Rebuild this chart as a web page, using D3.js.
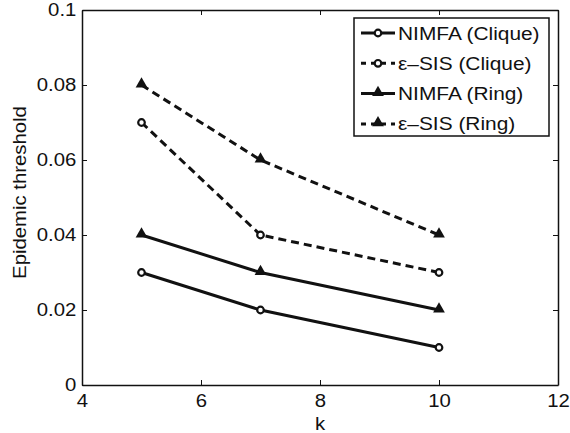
<!DOCTYPE html>
<html>
<head>
<meta charset="utf-8">
<script src="https://cdn.jsdelivr.net/npm/d3@7"></script>
<style>
  body { margin: 0; background: #fff; }
  text { font-family: "Liberation Sans", Arial, sans-serif; fill: #111; }
</style>
</head>
<body>
<svg id="chart" width="570" height="433"></svg>
<script>
var kValues = [5, 7, 10];
var nimfaClique = [0.03, 0.02, 0.01];
var sisClique = [0.07, 0.04, 0.03];
var nimfaRing = [0.04, 0.03, 0.02];
var sisRing = [0.08, 0.06, 0.04];
var xTicks = [4, 6, 8, 10, 12];
var yTicks = [0, 0.02, 0.04, 0.06, 0.08, 0.1];

var series = [
  { name: "NIMFA (Clique)", values: nimfaClique, dashed: false, marker: "circle" },
  { name: "\u03b5\u2013SIS (Clique)", values: sisClique, dashed: true, marker: "circle" },
  { name: "NIMFA (Ring)", values: nimfaRing, dashed: false, marker: "triangle" },
  { name: "\u03b5\u2013SIS (Ring)", values: sisRing, dashed: true, marker: "triangle" }
];

var svg = d3.select("#chart");
var L = 82, R = 558, T = 10, B = 385;
var SX = 1.13; // the original text is a bit wider than Liberation Sans

var x = d3.scaleLinear().domain([4, 12]).range([L, R]);
var y = d3.scaleLinear().domain([0, 0.1]).range([B, T]);

var fmt = function (d) { return d === 0 ? "0" : d3.format("~g")(d); };

// axes, ticks inward on all sides
svg.append("g").attr("transform", "translate(0," + B + ")")
  .call(d3.axisBottom(x).tickValues(xTicks).tickSizeInner(-5).tickSizeOuter(0).tickPadding(9).tickFormat(fmt));
svg.append("g").attr("transform", "translate(0," + T + ")")
  .call(d3.axisTop(x).tickValues(xTicks).tickSizeInner(-5).tickSizeOuter(0).tickFormat(""));
svg.append("g").attr("transform", "translate(" + L + ",0)")
  .call(d3.axisLeft(y).tickValues(yTicks).tickSizeInner(-5).tickSizeOuter(0).tickPadding(5).tickFormat(fmt));
svg.append("g").attr("transform", "translate(" + R + ",0)")
  .call(d3.axisRight(y).tickValues(yTicks).tickSizeInner(-5).tickSizeOuter(0).tickFormat(""));

svg.selectAll(".domain").attr("stroke", "#111").attr("stroke-width", 1.5);
svg.selectAll(".tick line").attr("stroke", "#111").attr("stroke-width", 1);
svg.selectAll(".tick text").style("font-size", "18px").attr("fill", "#111")
  .attr("transform", "scale(" + SX + ",1)");

// axis labels
svg.append("text").attr("transform", "translate(" + x(8) + ",430) scale(" + SX + ",1)")
  .attr("text-anchor", "middle").style("font-size", "18px").text("k");
svg.append("text").attr("transform", "translate(26," + (y(0.05) - 5) + ") rotate(-90) scale(" + SX + ",1)")
  .attr("text-anchor", "middle").style("font-size", "18px").text("Epidemic threshold");

var line = d3.line().x(function (d, i) { return x(kValues[i]); }).y(function (d) { return y(d); });
var tri = d3.symbol().type(d3.symbolTriangle).size(60);

function drawMarker(g, type, cx, cy) {
  if (type === "circle") {
    g.append("circle").attr("cx", cx).attr("cy", cy).attr("r", 3.3)
      .attr("fill", "#fff").attr("stroke", "#111").attr("stroke-width", 2.2);
  } else {
    g.append("path").attr("d", tri).attr("transform", "translate(" + cx + "," + (cy - 1) + ")")
      .attr("fill", "#111");
  }
}

series.forEach(function (s) {
  var g = svg.append("g");
  g.append("path").datum(s.values).attr("d", line)
    .attr("fill", "none").attr("stroke", "#111").attr("stroke-width", 3)
    .attr("stroke-dasharray", s.dashed ? "8,5" : null);
  s.values.forEach(function (v, i) { drawMarker(g, s.marker, x(kValues[i]), y(v)); });
});

// legend
var lg = svg.append("g");
lg.append("rect").attr("x", 354).attr("y", 18).attr("width", 195).attr("height", 118)
  .attr("fill", "#fff").attr("stroke", "#111").attr("stroke-width", 1.5);
series.forEach(function (s, i) {
  var cy = 33 + i * 30.3;
  lg.append("line").attr("x1", 361).attr("x2", 395).attr("y1", cy).attr("y2", cy)
    .attr("stroke", "#111").attr("stroke-width", 3)
    .attr("stroke-dasharray", s.dashed ? "5,5" : null);
  drawMarker(lg, s.marker, 378, cy);
  lg.append("text").attr("transform", "translate(398," + (cy + 6.5) + ") scale(" + SX + ",1)")
    .style("font-size", "18.5px").text(s.name);
});
</script>
</body>
</html>
